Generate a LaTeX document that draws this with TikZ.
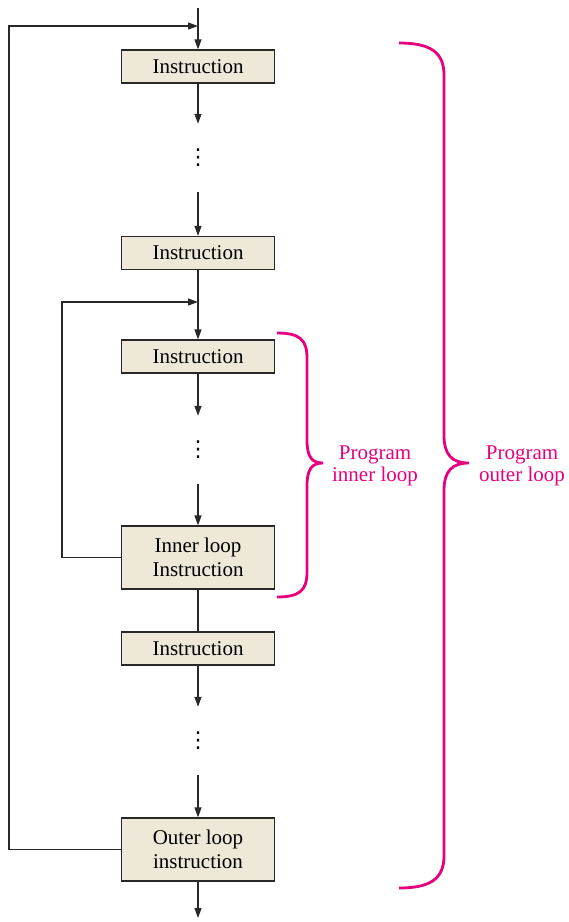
\documentclass[tikz,border=0pt]{standalone}
\usepackage{fontspec}
\setmainfont{Liberation Serif}
\newfontfamily\dotsfont{DejaVu Sans}
\usetikzlibrary{arrows.meta,positioning}
\definecolor{boxfill}{RGB}{237,232,216}
\definecolor{loopmag}{RGB}{230,0,126}
\definecolor{linegrey}{RGB}{40,40,40}
\tikzset{
  instr/.style={draw=linegrey,fill=boxfill,line width=1.2pt,align=center,
                minimum width=153pt,minimum height=33pt,inner sep=2pt,
                font=\fontsize{21}{24}\selectfont},
  instr2/.style={instr,minimum height=63pt},
  gap/.style={minimum height=68pt,inner sep=0pt,font=\dotsfont\fontsize{22}{24}\selectfont},
  flow/.style={-{Triangle[length=10pt,width=7pt]},line width=1.2pt,draw=linegrey},
  flowp/.style={line width=1.2pt,draw=linegrey},
  brc/.style={draw=loopmag,line width=2.8pt},
  brclbl/.style={text=loopmag,align=center,font=\fontsize{21}{22}\selectfont},
}

\begin{document}
\begin{tikzpicture}[x=1pt,y=-1pt]
  \useasboundingbox (0,0) rectangle (569,922);

  % main column
  \coordinate (start) at (198,8);
  \coordinate (jo)    at (198,26);
  \node[instr]  (ins1)  at (198,66.5)  {Instruction};
  \node[gap]    (dots1) at (198,158)   {⋮};
  \node[instr]  (ins2)  at (198,253)   {Instruction};
  \coordinate (ji)    at (198,302);
  \node[instr]  (ins3)  at (198,356.5) {Instruction};
  \node[gap]    (dots2) at (198,450)   {⋮};
  \node[instr2] (inner) at (198,557.5) {Inner loop\\Instruction};
  \node[instr]  (ins4)  at (198,648.5) {Instruction};
  \node[gap]    (dots3) at (198,741)   {⋮};
  \node[instr2] (outer) at (198,849.5) {Outer loop\\instruction};
  \coordinate (finish) at (198,918);

  \draw[flow]  (start) -- (ins1);
  \draw[flow]  (ins1) -- (dots1);
  \draw[flow]  (dots1) -- (ins2);
  \draw[flow]  (ins2) -- (ins3);
  \draw[flow]  (ins3) -- (dots2);
  \draw[flow]  (dots2) -- (inner);
  \draw[flowp] (inner) -- (ins4);
  \draw[flow]  (ins4) -- (dots3);
  \draw[flow]  (dots3) -- (outer);
  \draw[flow]  (outer) -- (finish);

  % loops back
  \draw[flow] (inner.west) -- (62,557.5) -- (62,302) -- (ji);
  \draw[flow] (outer.west) -- (9,849.5) -- (9,26) -- (jo);

  % braces
  \draw[brc] (277,333) .. controls (300,333) and (307,340) .. (307,358)
    -- (307,440) .. controls (307,457) and (312,463) .. (323,463)
    .. controls (312,463) and (307,469) .. (307,486)
    -- (307,572) .. controls (307,590) and (300,597) .. (277,597);
  \draw[brc] (399,43) .. controls (430,43) and (444,52) .. (444,75)
    -- (444,435) .. controls (444,455) and (452,463) .. (469,463)
    .. controls (452,463) and (444,471) .. (444,491)
    -- (444,856) .. controls (444,879) and (430,888) .. (399,888);

  \node[brclbl] (lblin)  at (375,466) {Program\\inner loop};
  \node[brclbl] (lblout) at (522,466) {Program\\outer loop};
\end{tikzpicture}
\end{document}
